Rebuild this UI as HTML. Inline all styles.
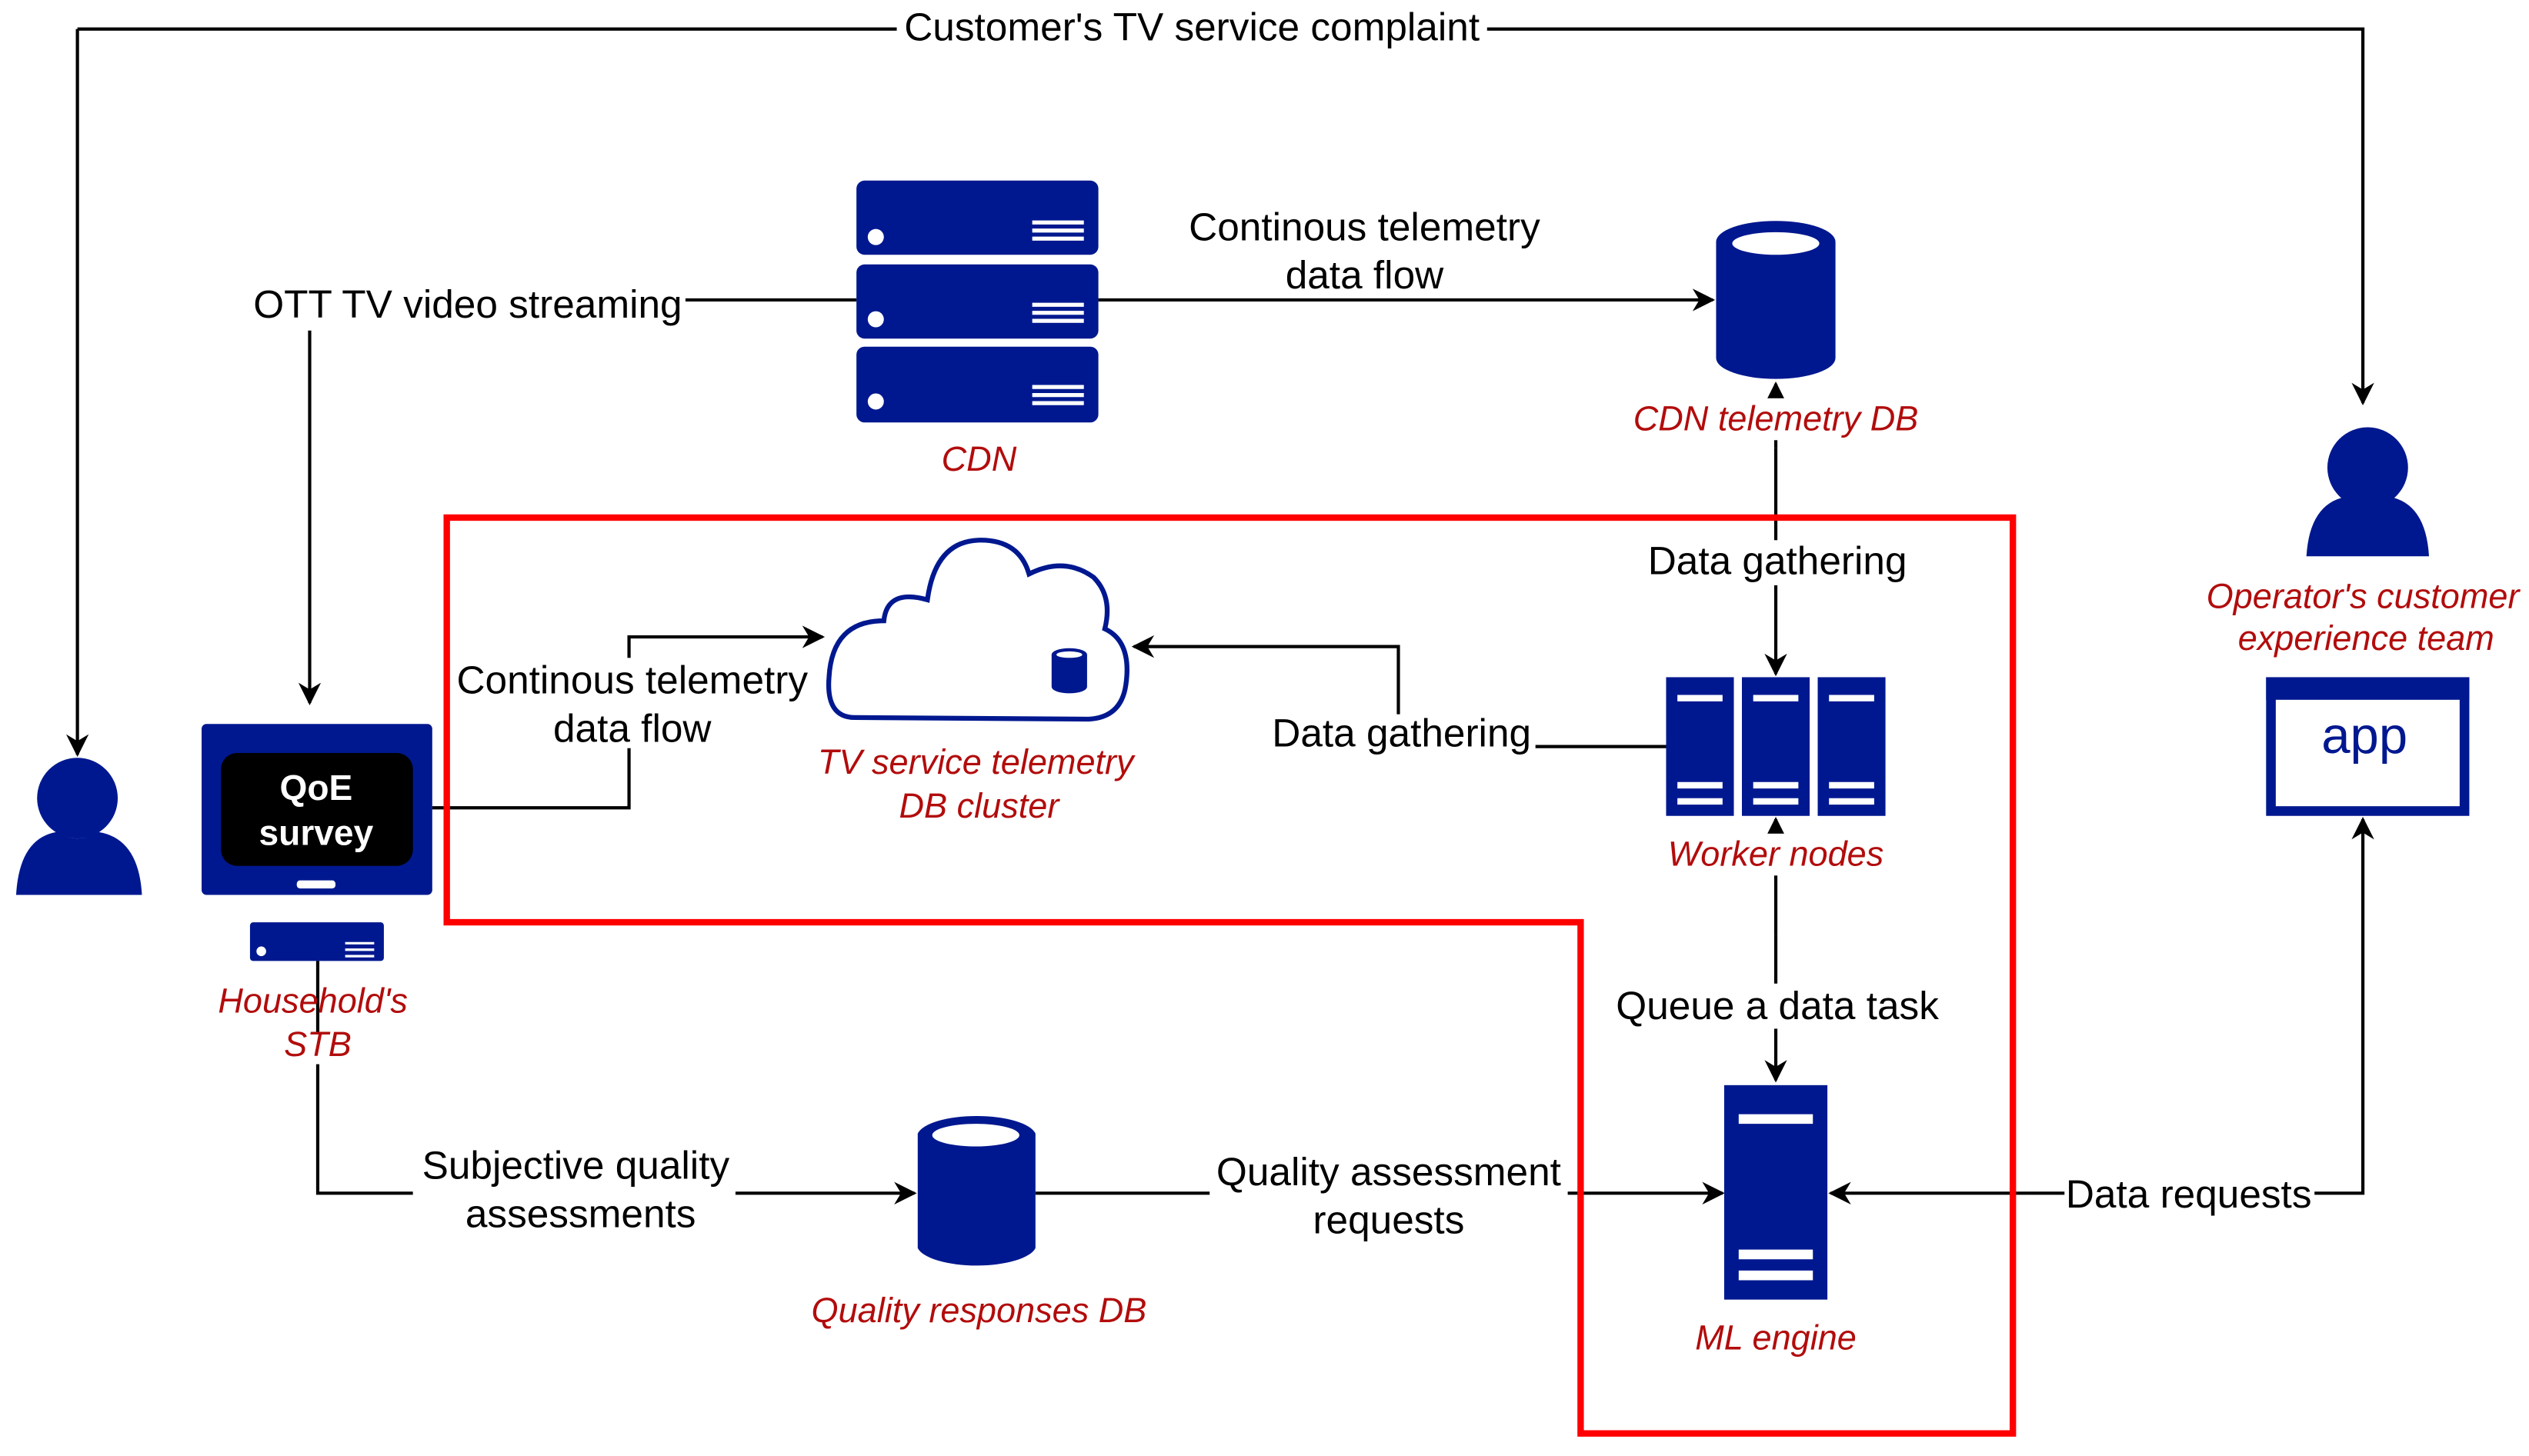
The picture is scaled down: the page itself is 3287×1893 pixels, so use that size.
<!DOCTYPE html>
<html><head><meta charset="utf-8"><style>
html,body{margin:0;padding:0;background:#fff;}
svg{display:block;}
.t{font-family:"Liberation Sans",sans-serif;font-size:24.5px;fill:#000;text-anchor:middle;}
.r{font-family:"Liberation Sans",sans-serif;font-size:21.5px;fill:#b20c0c;font-style:italic;text-anchor:middle;}
.l{stroke:#000;stroke-width:2;fill:none;}
</style></head><body>
<svg width="3287" height="1893" viewBox="0 0 1568 903" preserveAspectRatio="none" xmlns="http://www.w3.org/2000/svg">
<defs><marker id="a" viewBox="0 0 10 10" refX="9" refY="5" markerWidth="7" markerHeight="7" orient="auto-start-reverse"><path d="M0,0 L10,5 L0,10 L3,5 z" fill="#000"/></marker></defs>
<rect width="1568" height="903" fill="#fff"/>
<path class="l" d="M48,18 L1465,18 L1465,250" marker-end="url(#a)"/>
<path class="l" d="M48,18 L48,468" marker-end="url(#a)"/>
<rect x="556" y="4" width="366" height="28" fill="#fff"/>
<text class="t" x="739" y="25">Customer's TV service complaint</text>
<circle cx="48" cy="495" r="25" fill="#00188f"/>
<path d="M10,555 Q12,520 35,516 Q48,524 61,516 Q86,520 88,555 Z" fill="#00188f"/>
<circle cx="1468" cy="290" r="25" fill="#00188f"/>
<path d="M1430,345 Q1432,312 1455,308 Q1468,316 1481,308 Q1504,312 1506,345 Z" fill="#00188f"/>
<text class="r" x="1465" y="377">Operator's customer</text>
<text class="r" x="1467" y="403">experience team</text>
<rect x="1408" y="423" width="120" height="80" fill="#fff" stroke="#00188f" stroke-width="6"/>
<rect x="1405" y="420" width="126" height="14" fill="#00188f"/>
<text x="1466" y="467" font-family="Liberation Sans,sans-serif" font-size="32" fill="#00188f" text-anchor="middle">app</text>
<path class="l" d="M1250,740 L1465,740 L1465,508" marker-end="url(#a)"/>
<path class="l" d="M1250,740 L1135,740" marker-end="url(#a)"/>
<rect x="1280" y="727" width="155" height="28" fill="#fff"/>
<text class="t" x="1357" y="749">Data requests</text>
<g fill="#00188f">
<rect x="531" y="112" width="150" height="46" rx="5"/>
<rect x="531" y="164" width="150" height="46" rx="5"/>
<rect x="531" y="215" width="150" height="47" rx="5"/>
</g>
<g fill="#fff"><circle cx="543" cy="147" r="5"/><circle cx="543" cy="198" r="5"/><circle cx="543" cy="249" r="5"/></g>
<g stroke="#fff" stroke-width="2.5">
<path d="M640,138H672M640,143H672M640,148H672"/>
<path d="M640,189H672M640,194H672M640,199H672"/>
<path d="M640,240H672M640,245H672M640,250H672"/>
</g>
<text class="r" x="607" y="292">CDN</text>
<path class="l" d="M425,186 L531,186"/>
<text class="t" x="290" y="197">OTT TV video streaming</text>
<path class="l" d="M192,205 L192,436" marker-end="url(#a)"/>
<path class="l" d="M681,186 L1062,186" marker-end="url(#a)"/>
<text class="t" x="846" y="149">Continous telemetry</text>
<text class="t" x="846" y="179">data flow</text>
<path d="M1064,150 L1064,222 A37,13 0 0 0 1138,222 L1138,150 A37,13 0 0 0 1064,150 Z" fill="#00188f"/>
<ellipse cx="1101" cy="151" rx="27" ry="7" fill="#fff"/>
<path class="l" d="M1101,278 L1101,238" marker-end="url(#a)"/>
<path class="l" d="M1101,278 L1101,418" marker-end="url(#a)"/>
<rect x="1005" y="247" width="195" height="26" fill="#fff"/>
<text class="r" x="1101" y="267">CDN telemetry DB</text>
<rect x="1020" y="335" width="165" height="28" fill="#fff"/>
<text class="t" x="1102" y="356">Data gathering</text>
<g fill="#00188f"><rect x="1033" y="420" width="42" height="86"/><rect x="1080" y="420" width="42" height="86"/><rect x="1127" y="420" width="42" height="86"/></g>
<g stroke="#fff" stroke-width="4"><path d="M1040,433H1068M1087,433H1115M1134,433H1162M1040,487H1068M1087,487H1115M1134,487H1162M1040,497H1068M1087,497H1115M1134,497H1162"/></g>
<path class="l" d="M1101,580 L1101,508" marker-end="url(#a)"/>
<path class="l" d="M1101,580 L1101,670" marker-end="url(#a)"/>
<rect x="1030" y="517" width="145" height="26" fill="#fff"/>
<text class="r" x="1101" y="537">Worker nodes</text>
<path class="l" d="M1033,463 L952,463"/>
<text class="t" x="869" y="463">Data gathering</text>
<path class="l" d="M867,443 L867,401 L703,401" marker-end="url(#a)"/>
<path d="M530,445 Q512,445 514,420 Q516,385 548,385 Q550,365 575,372 Q580,335 608,335 Q632,335 638,356 Q660,345 678,358 Q690,370 685,390 Q702,398 698,425 Q695,445 675,446 Z" fill="#fff" stroke="#00188f" stroke-width="3"/>
<path d="M652,406 L652,426 A11,4 0 0 0 674,426 L674,406 A11,4 0 0 0 652,406Z" fill="#00188f"/>
<ellipse cx="663" cy="406" rx="8" ry="2" fill="#fff"/>
<text class="r" x="605" y="480">TV service telemetry</text>
<text class="r" x="607" y="507">DB cluster</text>
<rect x="125" y="449" width="143" height="106" rx="3" fill="#00188f"/>
<rect x="137" y="467" width="119" height="70" rx="10" fill="#000"/>
<text x="196" y="496" font-family="Liberation Sans,sans-serif" font-weight="bold" font-size="22" fill="#fff" text-anchor="middle">QoE</text>
<text x="196" y="524" font-family="Liberation Sans,sans-serif" font-weight="bold" font-size="22" fill="#fff" text-anchor="middle">survey</text>
<rect x="184" y="546" width="24" height="5" rx="2" fill="#fff"/>
<rect x="155" y="572" width="83" height="24" rx="2" fill="#00188f"/>
<circle cx="162" cy="590" r="3" fill="#fff"/>
<path d="M214,585H232M214,589H232M214,593H232" stroke="#fff" stroke-width="1.5"/>
<path class="l" d="M197,596 L197,640"/>
<text class="r" x="194" y="628">Household's</text>
<text class="r" x="197" y="655">STB</text>
<path class="l" d="M268,501 L390,501 L390,395 L510,395" marker-end="url(#a)"/>
<rect x="280" y="408" width="224" height="56" fill="#fff"/>
<text class="t" x="392" y="430">Continous telemetry</text>
<text class="t" x="392" y="460">data flow</text>
<path class="l" d="M197,660 L197,740 L567,740" marker-end="url(#a)"/>
<rect x="256" y="708" width="200" height="58" fill="#fff"/>
<text class="t" x="357" y="731">Subjective quality</text>
<text class="t" x="360" y="761">assessments</text>
<path d="M569,703 L569,774 A37,13 0 0 0 642,774 L642,703 A37,13 0 0 0 569,703 Z" fill="#00188f"/>
<ellipse cx="605" cy="704" rx="27" ry="7" fill="#fff"/>
<text class="r" x="607" y="820">Quality responses DB</text>
<path class="l" d="M642,740 L1068,740" marker-end="url(#a)"/>
<rect x="750" y="712" width="222" height="58" fill="#fff"/>
<text class="t" x="861" y="735">Quality assessment</text>
<text class="t" x="861" y="765">requests</text>
<rect x="998" y="610" width="209" height="28" fill="#fff"/>
<text class="t" x="1102" y="632">Queue a data task</text>
<rect x="1069" y="673" width="64" height="133" fill="#00188f"/>
<g stroke="#fff" stroke-width="6"><path d="M1078,694H1124M1078,778H1124M1078,791H1124"/></g>
<text class="r" x="1101" y="837">ML engine</text>
<path d="M277,321 L1248,321 L1248,889 L980,889 L980,572 L277,572 Z" fill="none" stroke="#f00" stroke-width="4"/>
</svg>
</body></html>
